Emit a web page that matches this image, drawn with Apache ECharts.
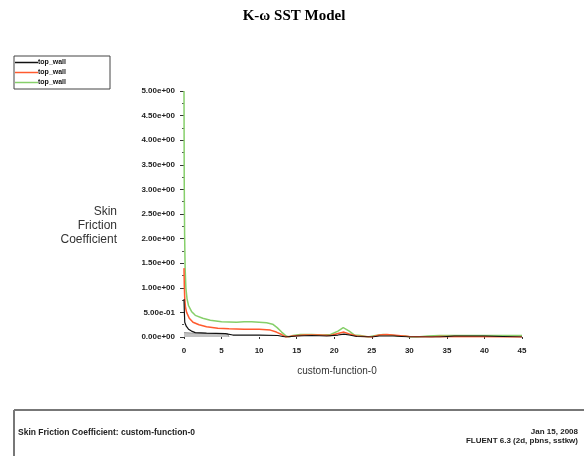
<!DOCTYPE html>
<html><head><meta charset="utf-8">
<script src="https://cdn.jsdelivr.net/npm/echarts@6/dist/echarts.min.js"></script>
<style>html,body{margin:0;padding:0;background:#fff}#c{width:584px;height:456px}</style>
</head><body><div id="c"></div>
<script>
const xTickLabels = ['0','5','10','15','20','25','30','35','40','45'];
const yTickLabels = ['0.00e+00','5.00e-01','1.00e+00','1.50e+00','2.00e+00','2.50e+00','3.00e+00','3.50e+00','4.00e+00','4.50e+00','5.00e+00'];
const legendNames = ['top_wall','top_wall','top_wall'];

const greenX = [0,0.03,0.08,0.15,0.25,0.4,0.6,1,1.5,2.5,3.5,5,7,8,9,10,11,11.8,12.4,13,13.6,14,14.5,15.5,17,18.5,19.5,20.5,21.2,22,22.7,23.5,24.5,25.5,26.5,27.5,28.5,29.5,30,31,32.5,34,45];
const greenY = [5.0,3.2,2.1,1.4,1.0,0.78,0.64,0.52,0.44,0.38,0.34,0.31,0.30,0.31,0.31,0.30,0.29,0.26,0.19,0.10,0.02,0.0,0.03,0.05,0.05,0.04,0.05,0.12,0.19,0.12,0.04,0.03,0.0,0.03,0.05,0.04,0.02,0.02,0.0,0.0,0.02,0.03,0.03];

const redX = [0,0.04,0.1,0.2,0.35,0.7,1.2,2,3,4.5,6,8,10,11.5,12.3,13,13.6,14.5,16,18,19.5,20.5,21.3,22,23,24,25,26,27,28.5,30,33,34,45];
const redY = [1.4,1.05,0.78,0.6,0.5,0.38,0.30,0.25,0.21,0.18,0.17,0.16,0.16,0.14,0.10,0.05,0.0,0.02,0.04,0.04,0.03,0.07,0.10,0.06,0.02,0.01,0.0,0.04,0.05,0.03,0.01,0.0,0.01,0.0];

const blackX = [0,0.05,0.1,0.15,0.3,0.6,1,1.5,3,5.5,6.5,10,12.5,13.5,15,17,19,20.5,21.3,22,23,25,26,28,30,34,36,40,45];
const blackY = [0.77,0.5,0.3,0.26,0.22,0.16,0.12,0.09,0.08,0.07,0.04,0.04,0.03,0.0,0.02,0.03,0.02,0.04,0.06,0.04,0.01,0.0,0.02,0.02,0.0,0.0,0.02,0.02,0.0];

const grayX = [0,1,3,5.8,6];
const grayY = [0.09,0.08,0.07,0.07,0.0];

const pairs = (xs, ys) => xs.map((x, i) => [x, ys[i]]);
const font = '"Liberation Sans", Arial, sans-serif';
const keys = ['s1','s2','s3'];

const chart = echarts.init(document.getElementById('c'));
chart.setOption({
  animation: false,
  backgroundColor: '#fff',
  title: {
    text: 'K-ω SST Model', left: 289, top: 4, textAlign: 'center',
    textStyle: { fontFamily: '"Liberation Serif", "Times New Roman", serif', fontWeight: 'bold', fontSize: 15, color: '#000' }
  },
  legend: {
    orient: 'vertical', left: 14, top: 56,
    data: keys.map(k => ({ name: k, icon: 'rect' })),
    formatter: (n) => legendNames[keys.indexOf(n)],
    borderColor: '#444', borderWidth: 1, padding: [3, 44, 3, 1],
    itemWidth: 23, itemHeight: 1.5, itemGap: 3,
    textStyle: { fontFamily: font, fontSize: 7, fontWeight: 'bold', color: '#111', padding: [0,0,0,-5], lineHeight: 7 }
  },
  grid: { left: 184, right: 62, top: 91, bottom: 119 },
  xAxis: {
    type: 'value', min: 0, max: 45, interval: 5,
    axisLine: { show: false },
    axisTick: { show: true, length: 2, lineStyle: { color: '#333' } },
    splitLine: { show: false },
    axisLabel: { margin: 10, fontFamily: font, fontSize: 8, fontWeight: 'bold', color: '#222',
      formatter: (v) => xTickLabels[Math.round(v / 5)] },
    name: 'custom-function-0', nameLocation: 'middle', nameGap: 29,
    nameTextStyle: { fontFamily: font, fontSize: 10, color: '#333', padding: [0, 32, 0, 0] }
  },
  yAxis: {
    type: 'value', min: 0, max: 5, interval: 0.5,
    axisLine: { show: false },
    axisTick: { show: true, length: 4, lineStyle: { color: '#333' } },
    minorTick: { show: true, splitNumber: 2, length: 2, lineStyle: { color: '#555' } },
    splitLine: { show: false },
    axisLabel: { margin: 9, fontFamily: font, fontSize: 8, fontWeight: 'bold', color: '#222',
      formatter: (v) => yTickLabels[Math.round(v / 0.5)] }
  },
  graphic: [
    { type: 'text', x: 117, y: 205, style: { text: 'Skin\nFriction\nCoefficient', align: 'right', verticalAlign: 'top',
      font: '12px "Liberation Sans", Arial, sans-serif', lineHeight: 14, fill: '#333' } },
    { type: 'line', shape: { x1: 14, y1: 410, x2: 584, y2: 410 }, style: { stroke: '#777', lineWidth: 2 } },
    { type: 'line', shape: { x1: 14, y1: 410, x2: 14, y2: 456 }, style: { stroke: '#777', lineWidth: 2 } },
    { type: 'text', x: 18, y: 433, style: { text: 'Skin Friction Coefficient: custom-function-0', verticalAlign: 'middle',
      font: 'bold 8.5px "Liberation Sans", Arial, sans-serif', fill: '#222' } },
    { type: 'text', x: 578, y: 432, style: { text: 'Jan 15, 2008', align: 'right', verticalAlign: 'middle',
      font: 'bold 8px "Liberation Sans", Arial, sans-serif', fill: '#222' } },
    { type: 'text', x: 578, y: 441, style: { text: 'FLUENT 6.3 (2d, pbns, sstkw)', align: 'right', verticalAlign: 'middle',
      font: 'bold 8px "Liberation Sans", Arial, sans-serif', fill: '#222' } }
  ],
  series: [
    { name: 'gray', type: 'line', data: pairs(grayX, grayY), symbol: 'none', lineStyle: { color: '#999', width: 1 },
      areaStyle: { color: '#a8a8a8' }, z: 1 },
    { name: 's3', type: 'line', data: pairs(greenX, greenY), symbol: 'none', color: '#86cf6a', lineStyle: { width: 1.5 }, z: 2 },
    { name: 's2', type: 'line', data: pairs(redX, redY), symbol: 'none', color: '#ff5a2e', lineStyle: { width: 1.5 }, z: 3 },
    { name: 's1', type: 'line', data: pairs(blackX, blackY), symbol: 'none', color: '#111', lineStyle: { width: 1.2 }, z: 4 }
  ]
});
</script></body></html>
